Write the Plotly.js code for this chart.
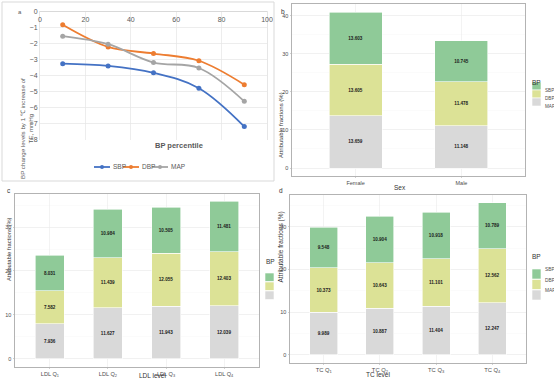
<!DOCTYPE html>
<html><head><meta charset="utf-8">
<script src="https://cdn.plot.ly/plotly-3.0.1.min.js"></script>
<style>html,body{margin:0;padding:0;background:#fff;}#chart{width:554px;height:384px;}</style>
</head><body><div id="chart"></div>
<script>
// ---- Panel a: BP change by percentile ----
const percentiles = [10, 30, 50, 70, 90];
const sbpChange = [-3.27, -3.41, -3.84, -4.80, -7.19];
const dbpChange = [-0.85, -2.23, -2.64, -3.09, -4.58];
const mapChange = [-1.56, -2.06, -3.20, -3.54, -5.62];
const xTickVals = [0, 20, 40, 60, 80, 100];
const yTickVals = [-8, -7, -6, -5, -4, -3, -2, -1, 0];

// ---- Panel b: by sex ----
const sexCats = ['Female', 'Male'];
const sexMAP = [13.659, 11.148];
const sexDBP = [13.605, 11.478];
const sexSBP = [13.603, 10.745];

// ---- Panel c: by LDL level ----
const ldlCats = ['LDL Q<sub>1</sub>', 'LDL Q<sub>2</sub>', 'LDL Q<sub>3</sub>', 'LDL Q<sub>4</sub>'];
const ldlMAP = [7.936, 11.627, 11.943, 12.039];
const ldlDBP = [7.582, 11.439, 12.055, 12.403];
const ldlSBP = [8.031, 10.984, 10.505, 11.481];

// ---- Panel d: by TC level ----
const tcCats = ['TC Q<sub>1</sub>', 'TC Q<sub>2</sub>', 'TC Q<sub>3</sub>', 'TC Q<sub>4</sub>'];
const tcMAP = [9.989, 10.887, 11.404, 12.247];
const tcDBP = [10.373, 10.643, 11.101, 12.562];
const tcSBP = [9.548, 10.904, 10.918, 10.789];

const bpNames = ['SBP', 'DBP', 'MAP'];
const lineColors = {SBP: '#4472C4', DBP: '#ED7D31', MAP: '#A5A5A5'};
const barColors = {SBP: '#8FCA98', DBP: '#DCE296', MAP: '#D9D9D9'};

const W = 554, H = 384;
const px = v => v / W;
const py = v => 1 - v / H;
const FONT = 'Liberation Sans, Arial, sans-serif';

const traces = [];
// panel a lines
[['SBP', sbpChange], ['DBP', dbpChange], ['MAP', mapChange]].forEach(([n, arr]) => {
  traces.push({
    type: 'scatter', mode: 'lines+markers', name: n, x: percentiles, y: arr,
    xaxis: 'x', yaxis: 'y', showlegend: false,
    line: {color: lineColors[n], width: 1.8, shape: 'spline', smoothing: 1},
    marker: {color: lineColors[n], size: 5}
  });
});

function addBars(cats, mapV, dbpV, sbpV, xa, ya) {
  [['MAP', mapV], ['DBP', dbpV], ['SBP', sbpV]].forEach(([n, arr]) => {
    traces.push({
      type: 'bar', name: n, x: cats, y: arr, xaxis: xa, yaxis: ya, showlegend: false,
      marker: {color: barColors[n], line: {color: '#ffffff', width: 0.6}},
      texttemplate: '%{y:.3f}', textposition: 'inside', insidetextanchor: 'middle',
      textangle: 0,
      textfont: {family: FONT, size: 4.6, color: '#1a1a1a', weight: 700}
    });
  });
}
addBars(sexCats, sexMAP, sexDBP, sexSBP, 'x2', 'y2');
addBars(ldlCats, ldlMAP, ldlDBP, ldlSBP, 'x3', 'y3');
addBars(tcCats, tcMAP, tcDBP, tcSBP, 'x4', 'y4');

const tickFontG = {family: FONT, size: 5.5, color: '#4d4d4d'};
function ggX(dom, anchor, n, fs) {
  return {domain: dom, anchor: anchor, type: 'category', range: [-0.6, n - 0.4],
    showgrid: true, gridcolor: '#ebebeb', gridwidth: 0.6, zeroline: false,
    ticks: 'outside', ticklen: 1.5, tickcolor: '#b3b3b3', tickwidth: 0.6,
    tickfont: {family: FONT, size: fs, color: '#4d4d4d'},
    showline: true, mirror: true, linecolor: '#b3b3b3', linewidth: 1, fixedrange: true};
}
function ggY(dom, anchor, range, top) {
  const tv = []; for (let v = 0; v <= top; v += 10) tv.push(v);
  return {domain: dom, anchor: anchor, range: range, tickvals: tv,
    showgrid: true, gridcolor: '#ebebeb', gridwidth: 0.6, zeroline: false,
    minor: {dtick: 5, tick0: 0, showgrid: true, gridcolor: '#f4f4f4', gridwidth: 0.4, ticks: ''},
    ticks: 'outside', ticklen: 1.5, tickcolor: '#b3b3b3', tickwidth: 0.6,
    tickfont: tickFontG,
    showline: true, mirror: true, linecolor: '#b3b3b3', linewidth: 1, fixedrange: true};
}

const annotations = [];
const shapes = [];
function ann(text, x, y, opts) {
  annotations.push(Object.assign({text: text, x: px(x), y: py(y), xref: 'paper', yref: 'paper',
    showarrow: false, font: {family: FONT, size: 6, color: '#333333'}}, opts || {}));
}

// panel a decorations
shapes.push({type: 'rect', xref: 'paper', yref: 'paper', x0: px(2), x1: px(274), y0: py(181), y1: py(2),
  line: {color: '#d9d9d9', width: 1}});
ann('a', 16, 7, {font: {family: FONT, size: 6, color: '#595959'}});
ann('BP change levels by 1 ℃ increase of<br>TE, mmHg', 17, 76,
  {textangle: -90, font: {family: FONT, size: 6.2, color: '#595959'}});
ann('<b>BP percentile</b>', 153, 146, {font: {family: FONT, size: 7.5, color: '#595959'}});
// panel a legend
const legA = [['SBP', 94], ['DBP', 123], ['MAP', 152]];
legA.forEach(([n, x0]) => {
  shapes.push({type: 'line', xref: 'paper', yref: 'paper', x0: px(x0), x1: px(x0 + 16), y0: py(167), y1: py(167),
    line: {color: lineColors[n], width: 1.8}});
  shapes.push({type: 'circle', xref: 'paper', yref: 'paper', x0: px(x0 + 6), x1: px(x0 + 10), y0: py(169), y1: py(165),
    fillcolor: lineColors[n], line: {color: lineColors[n], width: 0}});
  ann(n, x0 + 17, 167, {xanchor: 'left', font: {family: FONT, size: 6.5, color: '#595959'}});
});

// panel b decorations
ann('b', 283, 6, {font: {family: FONT, size: 6.5, color: '#333333'}});
ann('Attributable fractions (%)', 281, 90, {textangle: -90, font: {family: FONT, size: 6, color: '#333333'}});
ann('Sex', 408, 187, {font: {family: FONT, size: 6.5, color: '#333333'}});
// panel c decorations
ann('c', 5, 191, {font: {family: FONT, size: 6.5, color: '#333333'}});
ann('Attributable fractions (%)', 4, 283, {textangle: -90, font: {family: FONT, size: 5.8, color: '#333333'}});
ann('LDL level', 137, 381, {font: {family: FONT, size: 6.5, color: '#333333'}});
// panel d decorations
ann('d', 281, 191, {font: {family: FONT, size: 6.5, color: '#333333'}});
ann('Attributable fractions (%)', 280, 285, {textangle: -90, font: {family: FONT, size: 6.5, color: '#333333'}});
ann('TC level', 392, 380, {font: {family: FONT, size: 6.5, color: '#333333'}});

// ggplot-like legends
function ggLegend(titleX, titleY, keyX, keyTops, keyH, showText, fs) {
  ann('BP', titleX, titleY, {xanchor: 'left', font: {family: FONT, size: 6.5, color: '#333333'}});
  bpNames.forEach((n, i) => {
    shapes.push({type: 'rect', xref: 'paper', yref: 'paper', x0: px(keyX), x1: px(keyX + 9),
      y0: py(keyTops[i] + keyH), y1: py(keyTops[i]), fillcolor: barColors[n], line: {color: '#ffffff', width: 0.6}});
    if (showText) ann(n, keyX + 10.5, keyTops[i] + keyH / 2, {xanchor: 'left', font: {family: FONT, size: fs, color: '#4d4d4d'}});
  });
}
ggLegend(530, 77, 532, [82, 90, 98], 8, true, 4.6);
ggLegend(264, 267, 265, [273, 282, 291], 8.5, false, 5);
ggLegend(530, 262, 532, [269, 279.5, 290], 10, true, 4.8);

const layout = {
  width: W, height: H, margin: {l: 0, r: 0, t: 0, b: 0},
  paper_bgcolor: '#ffffff', plot_bgcolor: 'rgba(0,0,0,0)',
  showlegend: false, barmode: 'stack', bargap: 0.5,
  font: {family: FONT},
  xaxis: {domain: [px(40), px(267)], anchor: 'free', position: py(10.7), side: 'bottom',
    range: [0, 100], tickvals: xTickVals, ticks: '', ticklabelstandoff: 2, ticklabeloverflow: 'allow',
    showgrid: true, gridcolor: '#e6e6e6', gridwidth: 0.7, zeroline: false,
    showline: true, linecolor: '#d9d9d9', linewidth: 1,
    tickfont: {family: FONT, size: 7, color: '#595959'}, fixedrange: true},
  yaxis: {domain: [py(140), py(10.7)], anchor: 'x', range: [-8.03, 0.03], tickvals: yTickVals,
    ticklabeloverflow: 'allow',
    showgrid: true, gridcolor: '#e6e6e6', gridwidth: 0.7, zeroline: false,
    showline: true, mirror: true, linecolor: '#e6e6e6', ticks: '',
    tickfont: {family: FONT, size: 7, color: '#595959'}, fixedrange: true},
  xaxis2: ggX([px(292), px(525)], 'y2', 2, 5.5),
  yaxis2: ggY([py(175.8), py(4.4)], 'x2', [-2.04, 42.93], 40),
  xaxis3: ggX([px(15), px(259)], 'y3', 4, 5.6),
  yaxis3: ggY([py(366.5), py(193.6)], 'x3', [-1.79, 37.65], 30),
  xaxis4: ggX([px(290), px(526)], 'y4', 4, 5.8),
  yaxis4: ggY([py(362.6), py(194.7)], 'x4', [-1.785, 37.49], 30),
  annotations: annotations,
  shapes: shapes
};

Plotly.newPlot('chart', traces, layout, {displayModeBar: false, staticPlot: true});
</script>
</body></html>
